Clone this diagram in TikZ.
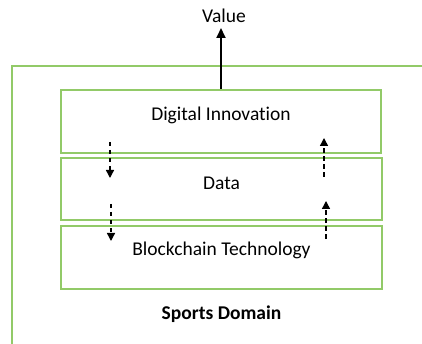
\documentclass[tikz,border=0pt]{standalone}
\usepackage{fontspec}
\setmainfont{Carlito}[Ligatures=NoCommon]
\usetikzlibrary{arrows.meta}
\definecolor{layergreen}{RGB}{146,202,104}
\begin{document}
\begin{tikzpicture}[x=1pt,y=-1pt,
  layer/.style={draw=layergreen,line width=2pt,minimum width=320pt,minimum height=63pt,inner sep=0pt},
  lbl/.style={font=\fontsize{19.5}{23}\selectfont,inner sep=0pt},
  flow/.style={line width=1.4pt,dash pattern=on 4.5pt off 3.5pt,-{Triangle[length=8pt,width=8pt]}},
  valuearrow/.style={line width=1.8pt,-{Triangle[length=10pt,width=9pt]}}]
\useasboundingbox (0,0) rectangle (422,344);
\begin{scope}
\clip (0,0) rectangle (422,344);
% sports domain frame, open to the right and bottom
\draw[layergreen,line width=2pt] (12,360) -- (12,66) -- (440,66);
\end{scope}

\node[layer] (di) at (221,121.5) {};
\node[layer,minimum width=321pt,minimum height=62pt] (data) at (221.5,189) {};
\node[layer,minimum width=321pt] (bt) at (221.5,257.5) {};

\node[lbl] at ([yshift=6.5pt]di.center) {Digital Innovation};
\node[lbl] at ([yshift=6pt]data.center) {Data};
\node[lbl] at ([yshift=7pt]bt.center) {Blockchain Technology};

\node[lbl,font=\fontsize{19.5}{23}\selectfont\bfseries] (sports) at (221.5,314) {Sports Domain};
\node[lbl] (value) at (224,16) {Value};

\draw[valuearrow] (di.north) -- (di.north |- 0,28);

% flows between the layers
\coordinate (d1s) at (110,142);
\coordinate (d1e) at (110,178);
\coordinate (d2s) at (111,204);
\coordinate (d2e) at (111,241);
\coordinate (u1s) at (324,177);
\coordinate (u1e) at (324,138);
\coordinate (u2s) at (326,239);
\coordinate (u2e) at (326,201);
\draw[flow] (d1s) -- (d1e);
\draw[flow] (d2s) -- (d2e);
\draw[flow] (u1s) -- (u1e);
\draw[flow] (u2s) -- (u2e);
\end{tikzpicture}
\end{document}
